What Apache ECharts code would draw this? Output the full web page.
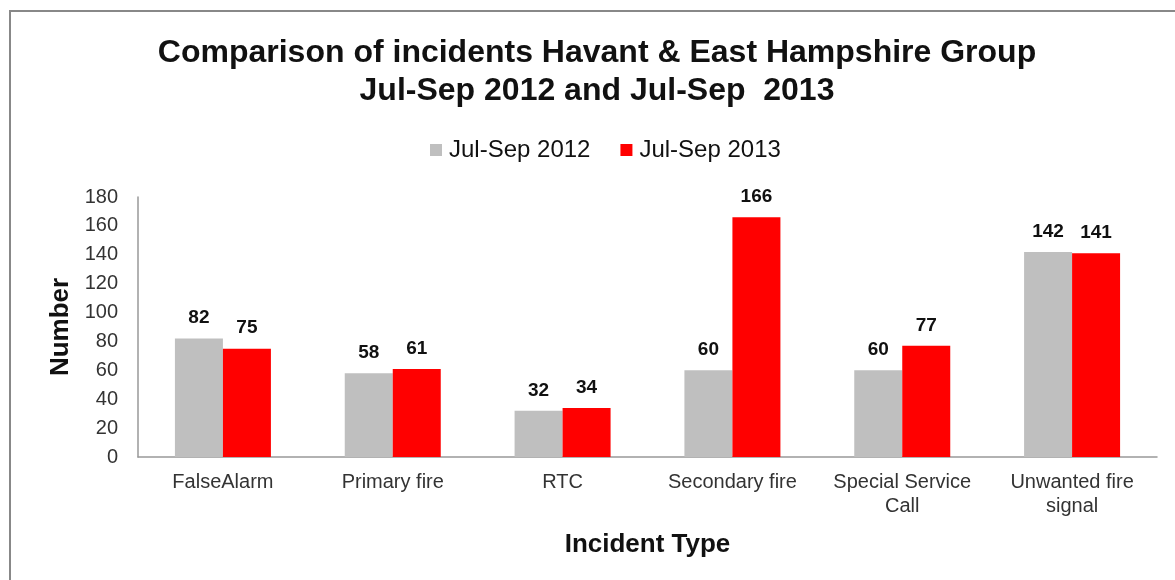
<!DOCTYPE html>
<html><head><meta charset="utf-8">
<script src="https://cdn.jsdelivr.net/npm/echarts@6/dist/echarts.min.js"></script>
<style>html,body{margin:0;padding:0;background:#fff}#c{width:1175px;height:580px}</style>
</head><body><div id="c"></div>
<script>
const categories = ['FalseAlarm', 'Primary fire', 'RTC', 'Secondary fire', 'Special Service\nCall', 'Unwanted fire\nsignal'];
const seriesNames = ['Jul-Sep 2012', 'Jul-Sep 2013'];
const values2012 = [82, 58, 32, 60, 60, 142];
const values2013 = [75, 61, 34, 166, 77, 141];
const yTicks = [0, 180, 20];

const chart = echarts.init(document.getElementById('c'));
const font = '"Liberation Sans", Arial, sans-serif';
const lbl = {show: true, position: 'top', fontFamily: font, fontSize: 19, fontWeight: 'bold', color: '#111', distance: 11};
chart.setOption({
  animation: false,
  backgroundColor: '#fff',
  graphic: [{type: 'rect', shape: {x: 10, y: 11, width: 1200, height: 600}, style: {fill: 'none', stroke: '#888', lineWidth: 2}}],
  title: {
    text: 'Comparison of incidents Havant & East Hampshire Group\nJul-Sep 2012 and Jul-Sep  2013',
    left: 592, textAlign: 'center', top: 29,
    textStyle: {fontFamily: font, fontSize: 32, fontWeight: 'bold', color: '#111', lineHeight: 38}
  },
  legend: {
    top: 133, left: 425, itemWidth: 12, itemHeight: 12, itemGap: 30, itemStyle: {borderWidth: 0},
    textStyle: {fontFamily: font, fontSize: 24, color: '#111', padding: [0, 0, 0, 2]},
    data: seriesNames.map(n => ({name: n, icon: 'rect'}))
  },
  grid: {left: 138, right: 18, top: 197, bottom: 123, containLabel: false},
  xAxis: {
    type: 'category', data: categories,
    name: 'Incident Type', nameLocation: 'middle', nameGap: 75,
    nameTextStyle: {fontFamily: font, fontSize: 26, fontWeight: 'bold', color: '#111'},
    axisLine: {lineStyle: {color: '#999', width: 1.5}},
    axisTick: {show: false},
    axisLabel: {fontFamily: font, fontSize: 20, color: '#333', margin: 13, lineHeight: 24, interval: 0}
  },
  yAxis: {
    type: 'value', min: yTicks[0], max: yTicks[1], interval: yTicks[2],
    name: 'Number', nameLocation: 'middle', nameGap: 62, nameRotate: 90,
    nameTextStyle: {fontFamily: font, fontSize: 26, fontWeight: 'bold', color: '#111'},
    axisLine: {show: true, lineStyle: {color: '#999', width: 1.5}},
    axisTick: {show: false},
    splitLine: {show: false},
    axisLabel: {fontFamily: font, fontSize: 20, color: '#333', margin: 20}
  },
  series: [
    {name: seriesNames[0], type: 'bar', data: values2012, barWidth: 48, barGap: '0%', itemStyle: {color: '#bfbfbf'}, label: lbl},
    {name: seriesNames[1], type: 'bar', data: values2013, barWidth: 48, itemStyle: {color: '#ff0000'}, label: lbl}
  ]
});
</script></body></html>
